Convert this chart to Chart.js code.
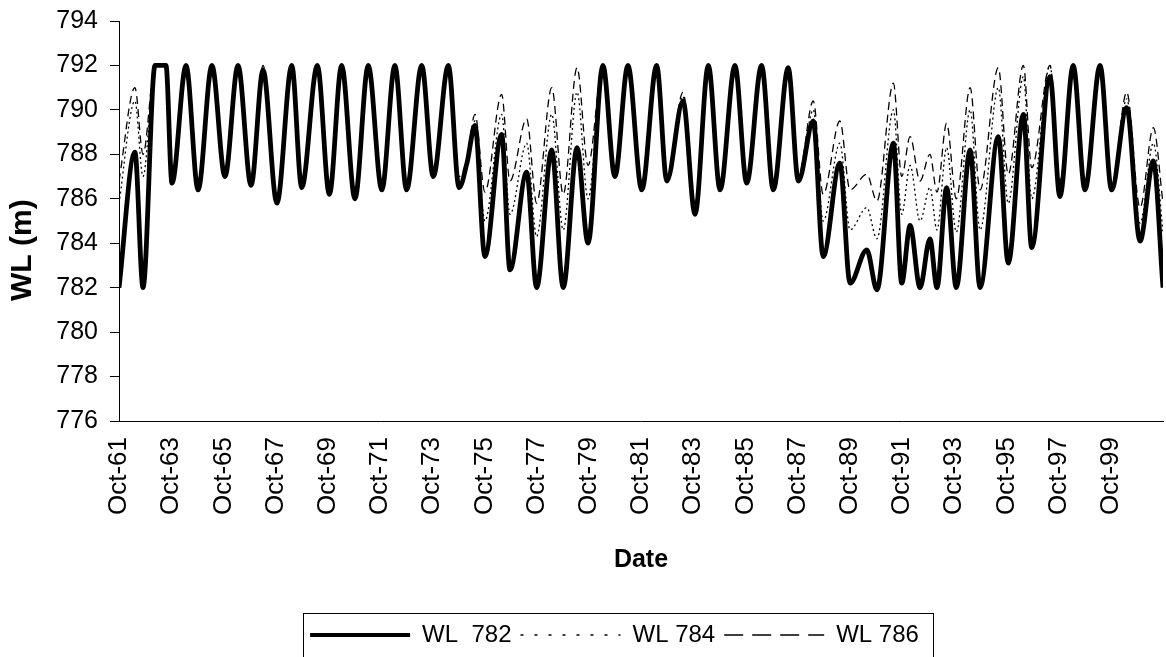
<!DOCTYPE html>
<html>
<head>
<meta charset="utf-8">
<script src="https://cdn.jsdelivr.net/npm/chart.js@4.4.1/dist/chart.umd.min.js"></script>
<style>
  html, body { margin: 0; padding: 0; background: #fff; }
  #wrap { width: 1166px; height: 657px; position: relative; }
</style>
</head>
<body>
<div id="wrap"><canvas id="wlChart"></canvas></div>
<script>
// years since Oct-61, at the turning points of the curves
const years = [
  0.00, 0.61, 0.92, 1.38, 1.80, 2.03,
  2.57, 3.03, 3.56, 4.06, 4.56, 5.06, 5.52, 6.05,
  6.62, 7.00, 7.60, 8.06, 8.53, 9.04, 9.55, 10.07, 10.57, 11.02, 11.60, 12.04, 12.62,
  13.03, 13.33, 13.64, 14.02, 14.66, 14.98, 15.62, 16.00, 16.58, 17.02, 17.55, 17.97,
  18.54, 19.00, 19.50, 20.03, 20.60, 20.99, 21.61, 22.07, 22.58, 23.03, 23.60, 24.05, 24.62, 25.07, 25.64,
  26.03, 26.60, 26.98, 27.62, 28.01, 28.65, 29.04, 29.67, 29.99, 30.31, 30.69, 31.07, 31.34, 31.71, 32.08,
  32.61, 32.99, 33.69, 34.07, 34.65, 34.97, 35.67, 36.05, 36.56, 37.01, 37.59, 38.03, 38.61, 39.12, 39.63, 40.00
];

const wl782 = [
  782.0, 788.1, 782.0, 792.0, 792.0, 786.7,
  792.0, 786.4, 792.0, 787.0, 792.0, 786.6, 791.8, 785.8,
  792.0, 786.5, 792.0, 786.2, 792.0, 786.0, 792.0, 786.4, 792.0, 786.4, 792.0, 787.0, 792.0,
  786.5, 787.6, 789.3, 783.4, 788.9, 782.8, 787.2, 782.0, 788.2, 782.0, 788.3, 784.0,
  792.0, 787.0, 792.0, 786.4, 792.0, 786.8, 790.4, 785.3, 792.0, 786.4, 792.0, 786.7, 792.0, 786.4, 791.9,
  786.8, 789.5, 783.4, 787.6, 782.2, 783.7, 781.9, 788.5, 782.2, 784.8, 782.0, 784.2, 782.0, 786.5, 782.0,
  788.2, 782.0, 788.8, 783.1, 789.8, 783.8, 791.5, 786.1, 792.0, 786.4, 792.0, 786.4, 790.1, 784.1, 787.7, 782.0
];

const wl784 = [
  785.8, 790.4, 787.0, 792.0, 792.0, 786.7,
  792.0, 786.4, 792.0, 787.0, 792.0, 786.6, 791.8, 785.8,
  792.0, 786.5, 792.0, 786.2, 792.0, 786.0, 792.0, 786.4, 792.0, 786.4, 792.0, 787.0, 792.0,
  786.6, 787.7, 789.5, 785.0, 789.8, 785.3, 788.5, 784.3, 789.8, 784.6, 790.8, 786.0,
  792.0, 787.0, 792.0, 786.4, 792.0, 786.8, 790.6, 785.5, 792.0, 786.4, 792.0, 786.7, 792.0, 786.4, 792.0,
  786.9, 790.0, 785.0, 788.5, 784.6, 785.6, 784.2, 790.0, 785.3, 787.5, 785.0, 786.5, 784.6, 788.3, 784.5,
  790.0, 784.6, 791.0, 785.8, 791.5, 786.0, 792.0, 786.5, 792.0, 786.5, 792.0, 786.4, 790.5, 784.9, 788.5, 784.5
];

const wl786 = [
  786.8, 791.0, 788.0, 792.0, 792.0, 786.8,
  792.0, 786.5, 792.0, 787.1, 792.0, 786.7, 792.0, 785.9,
  792.0, 786.6, 792.0, 786.3, 792.0, 786.1, 792.0, 786.5, 792.0, 786.5, 792.0, 787.1, 792.0,
  787.0, 787.8, 789.8, 786.3, 790.7, 786.8, 789.6, 785.8, 791.0, 786.2, 791.9, 787.5,
  792.0, 787.1, 792.0, 786.5, 792.0, 786.9, 790.8, 785.8, 792.0, 786.5, 792.0, 786.8, 792.0, 786.5, 792.0,
  787.0, 790.4, 786.2, 789.5, 786.4, 787.1, 785.9, 791.2, 787.0, 788.8, 786.8, 788.0, 786.3, 789.4, 786.0,
  791.0, 786.4, 791.9, 787.1, 792.0, 787.4, 792.0, 786.8, 792.0, 786.8, 792.0, 786.6, 790.8, 785.6, 789.2, 785.8
];

const tickLabels = [
  'Oct-61', 'Oct-63', 'Oct-65', 'Oct-67', 'Oct-69', 'Oct-71', 'Oct-73', 'Oct-75', 'Oct-77', 'Oct-79',
  'Oct-81', 'Oct-83', 'Oct-85', 'Oct-87', 'Oct-89', 'Oct-91', 'Oct-93', 'Oct-95', 'Oct-97', 'Oct-99'
];

const toPoints = (vals) => vals.map((v, i) => ({ x: years[i], y: v }));

// the legend samples use a coarser dash than the plotted lines
const legendDash = [[], [3, 11], [19, 9]];

Chart.defaults.font.family = "'Liberation Sans', Arial, sans-serif";
Chart.defaults.color = '#000';

// legend sits a bit right of centre and has a frame round it
const legendFrame = {
  id: 'legendFrame',
  afterLayout(chart) {
    chart.legend.left += 33;
    chart.legend.right += 33;
  },
  afterDraw(chart) {
    const boxes = chart.legend.legendHitBoxes;
    if (!boxes || !boxes.length) return;
    const first = boxes[0], last = boxes[boxes.length - 1];
    const ctx = chart.ctx;
    ctx.save();
    ctx.strokeStyle = '#000';
    ctx.lineWidth = 1;
    const l = Math.round(first.left - 7) + 0.5;
    const r = Math.round(last.left + last.width + 14) + 0.5;
    const t = Math.round(first.top - 10) + 0.5;
    ctx.strokeRect(l, t, r - l, 200);
    ctx.restore();
  }
};

const ctx = document.getElementById('wlChart');
new Chart(ctx, {
  type: 'line',
  data: {
    datasets: [
      {
        label: 'WL  782',
        data: toPoints(wl782),
        borderColor: '#000',
        borderWidth: 4.8,
        pointRadius: 0,
        cubicInterpolationMode: 'monotone'
      },
      {
        label: 'WL 784',
        data: toPoints(wl784),
        borderColor: '#000',
        borderWidth: 1.3,
        borderDash: [2, 3],
        pointRadius: 0,
        cubicInterpolationMode: 'monotone'
      },
      {
        label: 'WL 786',
        data: toPoints(wl786),
        borderColor: '#000',
        borderWidth: 1.3,
        borderDash: [8, 5],
        pointRadius: 0,
        cubicInterpolationMode: 'monotone'
      }
    ]
  },
  options: {
    responsive: true,
    maintainAspectRatio: false,
    animation: false,
    layout: { padding: { top: 21, right: 3, left: 0, bottom: 0 } },
    plugins: {
      tooltip: { enabled: false },
      legend: {
        position: 'bottom',
        labels: {
          usePointStyle: true,
          pointStyleWidth: 100,
          padding: 9,
          color: '#000',
          font: { size: 24 },
          generateLabels: (chart) => chart.data.datasets.map((ds, i) => ({
            text: ds.label,
            datasetIndex: i,
            fillStyle: 'rgba(0,0,0,0)',
            strokeStyle: '#000',
            lineWidth: i === 0 ? 4 : 1.5,
            lineDash: legendDash[i],
            pointStyle: 'line',
            hidden: false
          }))
        }
      }
    },
    scales: {
      x: {
        type: 'linear',
        min: 0,
        max: 40,
        grid: { display: false },
        border: { color: '#000', width: 1 },
        ticks: {
          stepSize: 2,
          autoSkip: false,
          minRotation: 90,
          maxRotation: 90,
          padding: 8,
          color: '#000',
          font: { size: 26 },
          callback: (v) => tickLabels[v / 2] ?? ''
        },
        title: {
          display: true,
          text: 'Date',
          color: '#000',
          font: { size: 25, weight: 'bold' },
          padding: { top: 0, bottom: 39 }
        },
        afterFit: (s) => {
          s.height = 193;
          s.paddingLeft = 0;
          s.paddingRight = 0;
        }
      },
      y: {
        min: 776,
        max: 794,
        grid: { drawOnChartArea: false, drawTicks: true, tickLength: 9, color: '#000' },
        border: { color: '#000', width: 1 },
        ticks: { stepSize: 2, padding: 12, color: '#000', font: { size: 25 } },
        title: {
          display: true,
          text: 'WL (m)       ',
          color: '#000',
          font: { size: 30, weight: 'bold' },
          padding: { top: 5, bottom: 5 }
        },
        afterFit: (s) => {
          s.width = 119;
          s.paddingTop = 0;
          s.paddingBottom = 0;
        }
      }
    }
  },
  plugins: [legendFrame]
});
</script>
</body>
</html>
